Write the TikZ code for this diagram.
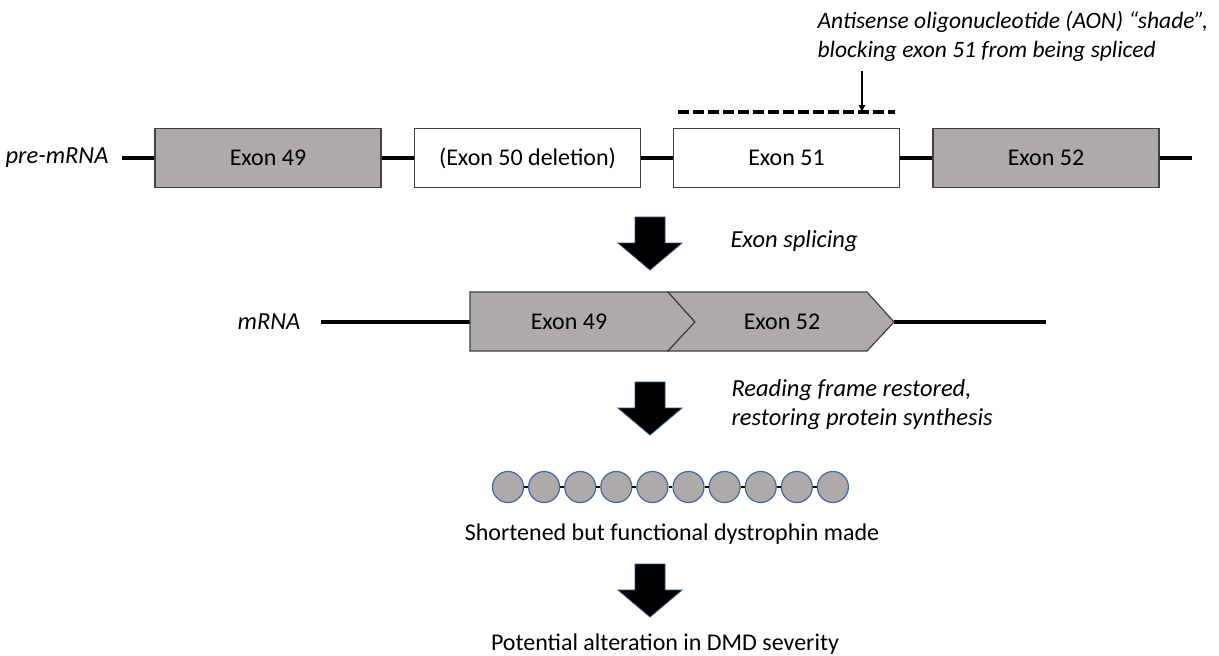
\documentclass[tikz,border=0pt]{standalone}
\usepackage{fontspec}
\setmainfont{Carlito}
\usetikzlibrary{arrows.meta,positioning}
\definecolor{exongray}{HTML}{AEAAAA}
\definecolor{beadblue}{HTML}{41689C}
\definecolor{arrowblue}{HTML}{2F4F7F}

\begin{document}
\begin{tikzpicture}[x=1pt, y=-1pt,
    font=\fontsize{24}{29}\selectfont,
    exon/.style={draw=black!75, line width=1.2pt, minimum width=226pt, minimum height=59pt, inner sep=0pt},
    gexon/.style={exon, fill=exongray},
    mexon/.style={draw=black!75, line width=1.2pt, fill=exongray, line join=miter},
    strand/.style={line width=3.5pt},
    aon/.style={line width=3.5pt, dash pattern=on 11pt off 4pt},
    lbl/.style={font=\fontsize{24.5}{28.5}\selectfont\itshape, align=left},
    bead/.style={circle, draw=beadblue, fill=exongray, line width=1.2pt, minimum size=31pt, inner sep=0pt},
    link/.style={line width=2pt},
    bigarrow/.style={fill=black, draw=arrowblue, line width=0.8pt, line join=miter}
]
\useasboundingbox (0,0) rectangle (1219,656);

% pre-mRNA
\node[lbl] (pre) at (57,158) {pre-mRNA};
\node[gexon] (e49) at (268,158) {Exon 49};
\node[exon] (e50) at (527.5,158) {(Exon 50 deletion)};
\node[exon] (e51) at (786.5,158) {Exon 51};
\node[gexon] (e52) at (1046,158) {Exon 52};
\coordinate (preL) at (122,158);
\coordinate (preR) at (1192,158);
\draw[strand] (preL) -- (e49.west) (e49.east) -- (e50.west)
    (e50.east) -- (e51.west) (e51.east) -- (e52.west) (e52.east) -- (preR);

% AON shade
\coordinate (aonL) at (678,112);
\coordinate (aonR) at (895,112);
\coordinate (aonTip) at (862,112);
\draw[aon] (aonL) -- (aonR);
\node[lbl, font=\fontsize{23.5}{29}\selectfont\itshape, anchor=base west] (aon) at (814,57) {Antisense oligonucleotide (AON) “shade”,\\blocking exon 51 from being spliced};
\draw[-{Triangle[length=7pt,width=6pt]}, line width=1.8pt, shorten <=6pt] (aon.south -| aonTip) -- (aonTip);

% block arrows
\foreach \y in {217,382,564}
  \draw[bigarrow] (635,\y) -- (665,\y) -- (665,\y+26) -- (682,\y+26) -- (650,\y+53)
    -- (618,\y+26) -- (635,\y+26) -- cycle;
\node[lbl, anchor=base west] (splice) at (727,247) {Exon splicing};
\node[lbl, anchor=base west] (frame) at (728,425) {Reading frame restored,\\restoring protein synthesis};

% mRNA
\node[lbl] (mrna) at (269,322) {mRNA};
\coordinate (mL) at (321,322);
\coordinate (mR) at (1046,322);
\coordinate (m49w) at (470,322);
\coordinate (m52e) at (894,322);
\draw[strand] (mL) -- (m49w) (m52e) -- (mR);
\draw[mexon] (470,292) -- (668,292) -- (695,322) -- (668,351) -- (470,351) -- cycle;
\draw[mexon] (668,292) -- (867,292) -- (894,322) -- (867,351) -- (668,351) -- (695,322) -- cycle;
\node (m49) at (569,322) {Exon 49};
\node (m52) at (782,322) {Exon 52};

% dystrophin
\foreach \i in {0,...,9}
  \node[bead] (b\i) at (508+36.1*\i,487) {};
\foreach \i [remember=\i as \prev (initially 0)] in {1,...,9}
  \draw[link] (b\prev) -- (b\i);
\node[anchor=base] (short) at (672,540) {Shortened but functional dystrophin made};
\node[anchor=base] (dmd) at (665,650) {Potential alteration in DMD severity};
\end{tikzpicture}
\end{document}
